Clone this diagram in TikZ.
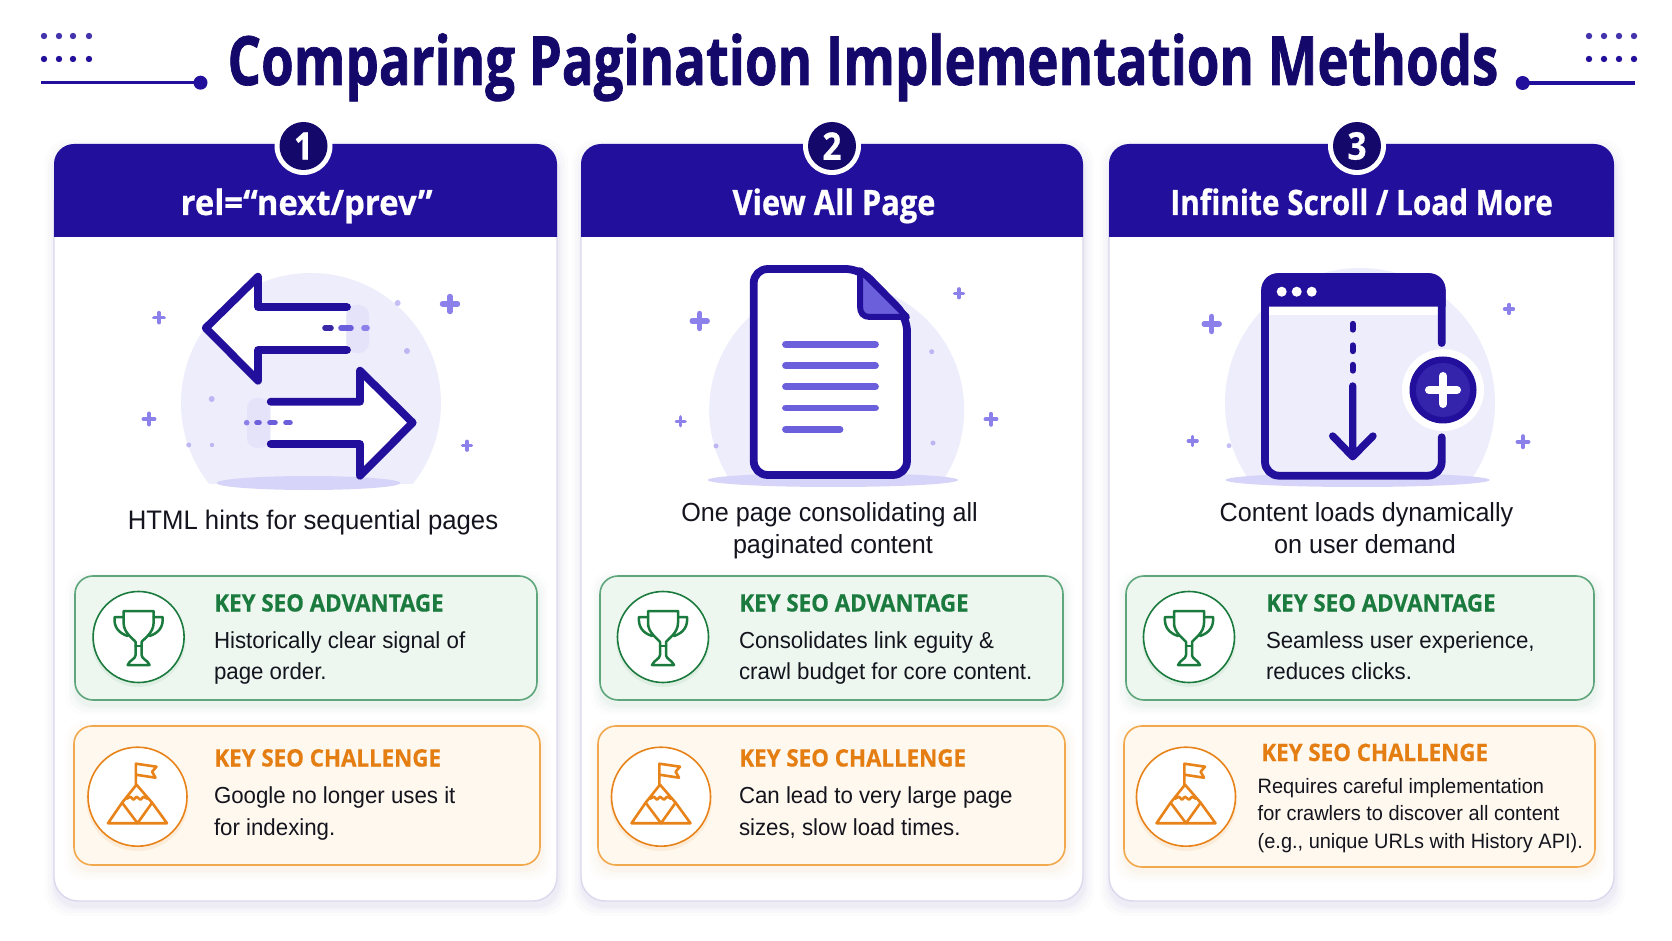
\documentclass[tikz,border=0pt]{standalone}
\usepackage{fontspec}
\setmainfont[FakeStretch=0.96]{Liberation Sans}
\newfontfamily\titlef[FakeStretch=0.775,FakeBold=1]{Open Sans}
\newfontfamily\hdrf[FakeStretch=0.88,FakeBold=0.6]{Open Sans}
\newfontfamily\hdrn[FakeStretch=0.85,FakeBold=0.6]{Open Sans}
\newfontfamily\hdrw[FakeStretch=0.94,FakeBold=0.6]{Open Sans}
\newfontfamily\keyf[FakeStretch=0.93,FakeBold=0.5]{Open Sans}
\newcommand\fz[1]{\fontsize{#1}{#1}\selectfont}
\definecolor{hdr}{HTML}{22109C}
\definecolor{navy}{HTML}{14096B}
\definecolor{lav}{HTML}{EEEDFC}
\definecolor{lavd}{HTML}{D6D4F8}
\definecolor{blob}{HTML}{E2E0FA}
\definecolor{spk}{HTML}{8C80EA}
\definecolor{lines}{HTML}{6B5FDB}
\definecolor{grn}{HTML}{1B7A3D}
\definecolor{grnb}{HTML}{5FA67C}
\definecolor{grnf}{HTML}{EDF7EF}
\definecolor{org}{HTML}{E8831A}
\definecolor{orgt}{HTML}{E57E12}
\definecolor{orgb}{HTML}{F2A94E}
\definecolor{orgf}{HTML}{FFF8EE}
\definecolor{cardb}{HTML}{D9D8EC}
\definecolor{txt}{HTML}{14141E}
\tikzset{
  txtn/.style={inner sep=0pt,outer sep=0pt,text=txt},
  thick7/.style={draw=hdr,line width=3.9pt,line cap=round,line join=round},
}
\newcommand\spark[3]{\draw[spk,line width=#3*0.36pt,line cap=round] (#1-#3,#2)--(#1+#3,#2) (#1,#2-#3)--(#1,#2+#3);}
\newcommand\fdot[3]{\fill[spk,opacity=.5] (#1,#2) circle (#3);}
\newcommand\soft[6]{\foreach \d/\o in {10/.012,7/.016,4/.02,2/.025}{\fill[#6,opacity=\o,rounded corners=#5] (#1-\d+1,#2-\d+5) rectangle (#3+\d+1,#4+\d+5);}}
\newcommand\card[2]{%
  \soft{#1}{144}{#2}{901}{12pt}{hdr}
  \fill[white,rounded corners=12pt] (#1,180) rectangle (#2,901);
  \draw[cardb,line width=.7pt,rounded corners=12pt] (#1,200) -- (#1,901) -- (#2,901) -- (#2,200);
  \fill[hdr] (#1,237) [rounded corners=10pt] -- (#1,144) -- (#2,144) [sharp corners] -- (#2,237) -- cycle;
}
\newcommand\badge[3]{%
  \fill[white] (#1,146) circle (29);
  \fill[navy] (#1,146) circle (24);
  \node[inner sep=0pt,text=white] (#3) at (#1,146) {\hdrf\bfseries\fz{19}#2};
}
\newcommand\bubble[6]{% cx cy r ybottom ex rx
  \begin{scope}\clip (#1-#3-5,#2-#3-5) rectangle (#1+#3+5,#4);
  \fill[lav] (#1,#2) circle (#3);\end{scope}
  \fill[lavd] (#5,#4) ellipse (#6 and 7);
}
\newcommand\trophy[2]{\begin{scope}[shift={(#1,#2)},draw=grn,line width=1.25pt,line cap=round,line join=round]
  \draw (-15,-26) -- (15,-26) -- (15,-14) .. controls (15,-4) and (5,2) .. (3,5) -- (3,18) .. controls (3,22) and (9,23) .. (11,28) -- (-11,28) .. controls (-9,23) and (-3,22) .. (-3,18) -- (-3,5) .. controls (-5,2) and (-15,-4) .. (-15,-14) -- cycle;
  \draw (-15,-20) -- (-24,-20) .. controls (-25,-10) and (-20,-4) .. (-11,-1);
  \draw (15,-20) -- (24,-20) .. controls (25,-10) and (20,-4) .. (11,-1);
  \draw (-3,9) -- (3,9);
\end{scope}}
\newcommand\mount[2]{\begin{scope}[shift={(#1,#2)},draw=org,line width=1.3pt,line cap=round,line join=round]
  \draw (-1.6,-12) -- (-1.6,-33) -- (19,-30) -- (14.6,-25) -- (18,-19) -- (-1.6,-22);
  \draw (-29.5,26.5) -- (-15.4,6) -- (-1,-12) -- (14.6,6) -- (29.5,26.5) -- cycle;
  \draw (-15.4,6) -- (0,26.5) -- (14.6,6);
  \draw (-11,2) -- (-7,0) -- (-4,3) -- (-1,0) -- (3,3) -- (6,0) -- (10,2);
\end{scope}}
\newcommand\advbox[7]{% id x0 x1 cx textx l1 l2
  \soft{#2}{576}{#3}{700}{9pt}{grn}
  \fill[grnf,draw=grnb,line width=.8pt,rounded corners=9pt] (#2,576) rectangle (#3,700);
  \fill[grn,opacity=.07] (#4,640) circle (47);
  \fill[white,draw=grn,line width=.8pt] (#4,637) circle (45.5);
  \trophy{#4}{637}
  \node[anchor=base west,inner sep=0pt,text=grn] (#1h) at (#5,611.5) {\keyf\bfseries\fz{12}KEY SEO ADVANTAGE};
  \node[anchor=base west,txtn] (#1a) at (#5,648) {\fz{11.6}#6};
  \node[anchor=base west,txtn] (#1b) at (#5,679) {\fz{11.6}#7};
}
\newcommand\chalbox[7]{% id x0 x1 cx textx l1 l2
  \soft{#2}{726}{#3}{865}{9pt}{org}
  \fill[orgf,draw=orgb,line width=.8pt,rounded corners=9pt] (#2,726) rectangle (#3,865);
  \fill[org,opacity=.09] (#4,800) circle (51);
  \fill[white,draw=org,line width=.8pt] (#4,796.7) circle (49.5);
  \mount{#4}{796.7}
  \node[anchor=base west,inner sep=0pt,text=orgt] (#1h) at (#5,766.5) {\keyf\bfseries\fz{12}KEY SEO CHALLENGE};
  \node[anchor=base west,txtn] (#1a) at (#5,803) {\fz{11.6}#6};
  \node[anchor=base west,txtn] (#1b) at (#5,835) {\fz{11.6}#7};
}
\begin{document}
\begin{tikzpicture}[x=0.5pt,y=-0.5pt]
\useasboundingbox (0,0) rectangle (1672,941);
\fill[white] (0,0) rectangle (1672,941);
% title decoration
\foreach \x in {44,59,73,89}{\fill[hdr!85] (\x,36) circle (3.2);\fill[hdr] (\x,59) circle (3.2);}
\foreach \x in {1589,1604,1619,1634}{\fill[hdr!85] (\x,36) circle (3.2);\fill[hdr] (\x,59) circle (3.2);}
\draw[hdr,line width=1.6pt] (41,82.7) -- (200,82.7);
\fill[hdr] (200.5,82.7) circle (7);
\draw[hdr,line width=1.6pt] (1522,83) -- (1635,83);
\fill[hdr] (1522.7,83) circle (7);
\node[anchor=base,inner sep=0pt,text=navy] (title) at (863,85) {\titlef\bfseries\fz{34}Comparing Pagination Implementation Methods};
% cards
\card{54}{557}\card{581}{1083}\card{1109}{1614}
\badge{303.5}{1}{b1}\badge{832}{2}{b2}\badge{1357}{3}{b3}
\node[anchor=base,inner sep=0pt,text=white] (h1) at (306.6,215) {\hdrw\bfseries\fz{17.5}rel=“next/prev”};
\node[anchor=base,inner sep=0pt,text=white] (h2) at (834,215) {\hdrf\bfseries\fz{17.5}View All Page};
\node[anchor=base,inner sep=0pt,text=white] (h3) at (1361.6,215) {\hdrn\bfseries\fz{17.5}Infinite Scroll / Load More};
% --- icon 1
\bubble{311}{403}{130}{483}{308.5}{92}
\spark{159}{317.7}{5}\spark{450}{304}{7.5}\spark{149}{419}{5.5}\spark{467}{445.7}{4.5}
\fdot{397.7}{303}{3}\fdot{407}{351}{3}\fdot{211.7}{399}{3}\fdot{188.7}{445}{2.5}\fdot{212}{445}{2.2}
\fill[white] (347,307) -- (258,307) -- (258,276.7) -- (205.7,328) -- (258,380.7) -- (258,350) -- (347,350) -- cycle;
\fill[white] (270.7,401.7) -- (360,401.7) -- (360,370.7) -- (412.7,422.7) -- (360,475.7) -- (360,444) -- (270.7,444) -- cycle;
\fill[blob,opacity=.7,rounded corners=5pt] (346,305) rectangle (369,353);
\fill[blob,opacity=.7,rounded corners=5pt] (247,398) rectangle (270,448);
\draw[thick7] (347,307) -- (258,307) -- (258,276.7) -- (205.7,328) -- (258,380.7) -- (258,350) -- (347,350);
\draw[thick7] (270.7,401.7) -- (360,401.7) -- (360,370.7) -- (412.7,422.7) -- (360,475.7) -- (360,444) -- (270.7,444);
\draw[hdr!90,line width=2.8pt,line cap=round] (325,328)--(331,328);
\draw[lines,line width=2.8pt,line cap=round] (341,328)--(351,328);
\draw[spk,line width=2.8pt,line cap=round] (364,328)--(367,328);
\fill[spk] (246.7,422.7) circle (2.8);
\draw[lines,line width=2.8pt,line cap=round] (257,422.7)--(259,422.7) (270,422.7)--(275,422.7) (286,422.7)--(290,422.7);
\node[anchor=base,txtn] (d1) at (313,529) {\fz{13.4}HTML hints for sequential pages};
% --- icon 2
\bubble{836.7}{410}{127.5}{480}{833}{125}
\spark{699.7}{321}{7.5}\spark{959}{293.3}{4.5}\spark{680.7}{421.3}{4.5}\spark{991}{419.3}{5.5}
\fdot{931.7}{351.7}{2.5}\fdot{716}{446}{2.5}\fdot{933}{443}{2.5}
\filldraw[fill=white,thick7,rounded corners=7pt] (753.7,269) -- (860,269) -- (907,317) -- (907,475) -- (753.7,475) -- cycle;
\filldraw[fill=lines,thick7,line width=3pt] (860,270) -- (860,306) .. controls (860,313) and (863,317) .. (870,317) -- (907,317) -- cycle;
\foreach \y/\e in {344.3/875.5,365.7/875.5,386.7/875.5,408/875.5,429.3/840}{\draw[lines,line width=3.4pt,line cap=round] (785.5,\y) -- (\e,\y);}
\node[anchor=base,txtn] (d2a) at (829.6,521) {\fz{13.1}One page consolidating all};
\node[anchor=base,txtn] (d2b) at (833,553) {\fz{13.1}paginated content};
% --- icon 3
\bubble{1360}{403}{135}{480}{1357.5}{132}
\spark{1211.7}{324}{7.5}\spark{1509}{309}{4.5}\spark{1192.7}{441}{4.5}\spark{1523}{441.7}{5.5}
\fdot{1229}{445.7}{2.5}
\fill[white] (1265,300) rectangle (1441.7,315);
\draw[thick7,rounded corners=7pt] (1441.7,343) -- (1441.7,277) -- (1265,277) -- (1265,475.7) -- (1441.7,475.7) -- (1441.7,437.3);
\fill[hdr] (1261.5,306.7) [rounded corners=8pt] -- (1261.5,273.3) -- (1445.5,273.3) [sharp corners] -- (1445.5,306.7) -- cycle;
\foreach \x in {1281.7,1296.7,1311.7}{\fill[white] (\x,291.7) circle (5);}
\foreach \a/\b in {324/329.5,345.5/351,365/370.5}{\draw[hdr,line width=3.2pt,line cap=round] (1352.7,\a) -- (1352.7,\b);}
\draw[thick7,line width=3.7pt] (1352.7,386) -- (1352.7,456) (1332.7,436) -- (1352.7,456.7) -- (1373,436);
\fill[white] (1443,390) circle (41);
\fill[hdr] (1443,390) circle (33.5);
\fill[hdr!75!lines] (1443,390) circle (27);
\draw[white,line width=4pt,line cap=round] (1429,390) -- (1457,390) (1443,376) -- (1443,404);
\node[anchor=base,txtn] (d3a) at (1366.5,521) {\fz{13.1}Content loads dynamically};
\node[anchor=base,txtn] (d3b) at (1365,553) {\fz{13.1}on user demand};
% --- boxes
\advbox{a1}{75}{537}{138.6}{214}{Historically clear signal of}{page order.}
\advbox{a2}{600}{1063}{663}{739}{Consolidates link eguity \&}{crawl budget for core content.}
\advbox{a3}{1126}{1594}{1189}{1266}{Seamless user experience,}{reduces clicks.}
\chalbox{c1}{74}{540}{137.5}{214}{Google no longer uses it}{for indexing.}
\chalbox{c2}{598}{1065}{661}{739}{Can lead to very large page}{sizes, slow load times.}
% third challenge box has three lines
\soft{1124}{726}{1595}{867}{9pt}{org}
\fill[orgf,draw=orgb,line width=.8pt,rounded corners=9pt] (1124,726) rectangle (1595,867);
\fill[org,opacity=.09] (1186,800) circle (51);
\fill[white,draw=org,line width=.8pt] (1186,796.7) circle (49.5);
\mount{1186}{796.7}
\node[anchor=base west,inner sep=0pt,text=orgt] (c3h) at (1261,761) {\keyf\bfseries\fz{12}KEY SEO CHALLENGE};
\node[anchor=base west,txtn] (c3a) at (1257.7,793.3) {\fz{10.4}Requires careful implementation};
\node[anchor=base west,txtn] (c3b) at (1257.7,820.7) {\fz{10.4}for crawlers to discover all content};
\node[anchor=base west,txtn] (c3c) at (1257.7,848.3) {\fz{10.4}(e.g., unique URLs with History API).};
\end{tikzpicture}
\end{document}
